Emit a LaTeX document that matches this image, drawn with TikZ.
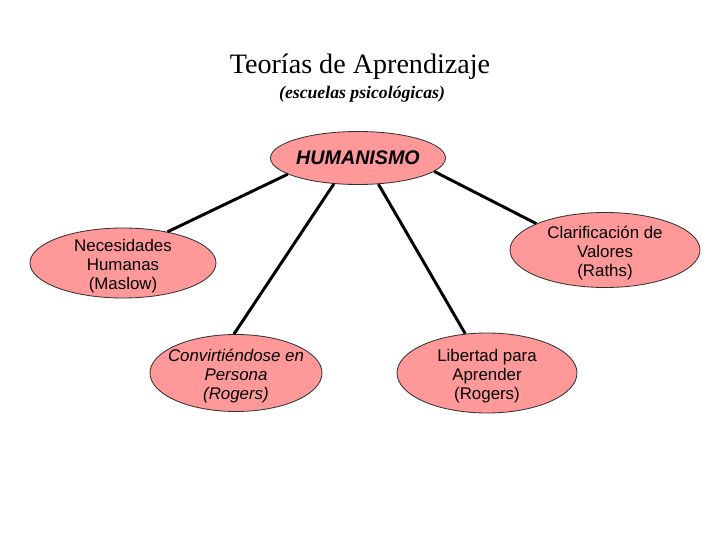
\documentclass[tikz,border=0pt]{standalone}
\usepackage{fontspec}
\setmainfont{Liberation Serif}
\setsansfont{Liberation Sans}
\usetikzlibrary{shapes.geometric}
\definecolor{rosa}{RGB}{255,153,153}
\tikzset{
  burbuja/.style={ellipse, draw=black!80, line width=0.6pt, fill=rosa},
  rama/.style={line width=2.1pt},
  texto/.style={align=center, yshift=-2pt, font=\sffamily\fontsize{12}{13.6}\selectfont}
}

\begin{document}
\begin{tikzpicture}
        \useasboundingbox (0,0) rectangle (18,13.5);
        % Titulo
        \node (titulo) at (9.0,11.82) {\fontsize{20}{24}\selectfont Teorías de Aprendizaje};
        \node (sub) at (9.05,11.15) {\fontsize{12.6}{14}\selectfont\bfseries\itshape (escuelas psicológicas)};
        % Nodo central
        \node[burbuja, minimum width=4.375cm, minimum height=1.325cm,
              label={[texto, yshift=2pt, font=\sffamily\bfseries\itshape\fontsize{14}{16}\selectfont]center:HUMANISMO}] (hum) at (8.95,9.55) {};
        % Escuelas
        \node[burbuja, minimum width=4.65cm, minimum height=1.75cm,
              label={[texto]center:Necesidades\\Humanas\\(Maslow)}] (nec) at (3.075,6.925) {};
        \node[burbuja, minimum width=4.75cm, minimum height=1.875cm,
              label={[texto]center:Clarificación de\\Valores\\(Raths)}] (cla) at (15.125,7.25) {};
        \node[burbuja, minimum width=4.3cm, minimum height=1.925cm,
              label={[texto, font=\sffamily\itshape\fontsize{12}{13.6}\selectfont]center:Convirtiéndose en\\Persona\\(Rogers)}] (con) at (5.9,4.175) {};
        \node[burbuja, minimum width=4.5cm, minimum height=2cm,
              label={[texto]center:Libertad para\\Aprender\\(Rogers)}] (lib) at (12.175,4.175) {};
        % Ramas
        \draw[rama] (hum.193) -- (nec.35);
        \draw[rama] (hum.227) -- (con.93);
        \draw[rama] (hum.308) -- (lib.119);
        \draw[rama] (hum.350) -- (cla.159);
    \end{tikzpicture}
\end{document}
